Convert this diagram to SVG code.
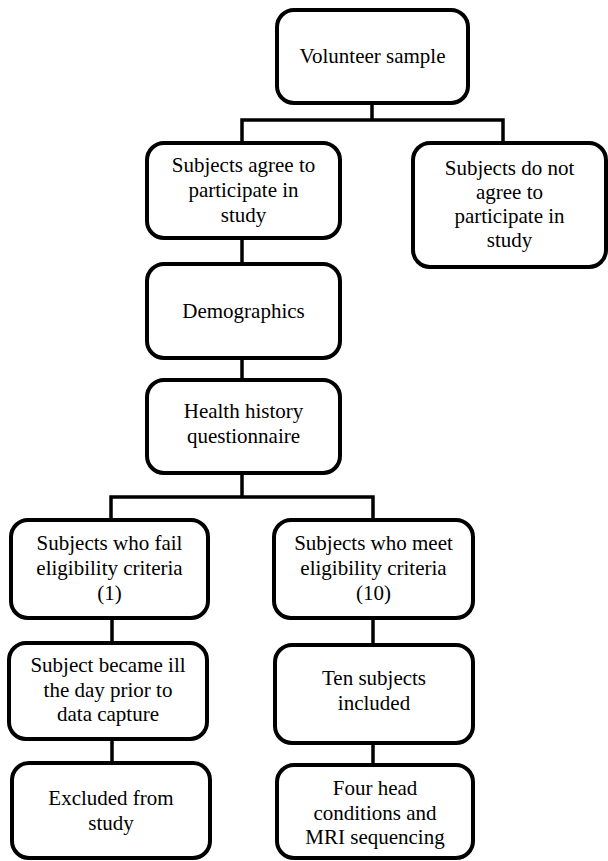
<svg xmlns="http://www.w3.org/2000/svg" width="608" height="861" viewBox="0 0 608 861">
<style>
.box{fill:#fff;stroke:#000;stroke-width:4}
.con{fill:none;stroke:#000;stroke-width:3.5;stroke-linecap:square}
text{font-family:'Liberation Serif','Tinos','DejaVu Serif',serif;font-size:21px;fill:#000;text-anchor:middle}
</style>
<rect width="608" height="861" fill="#fff"/>
<g id="connectors">
<path class="con" d="M372,103 V120 M242,120 H503 M242,120 V143 M503,120 V143"/>
<path class="con" d="M242,238 V264"/>
<path class="con" d="M242,358 V380"/>
<path class="con" d="M242,473 V497 M111,497 H373 M111,497 V520 M373,497 V520"/>
<path class="con" d="M112,618 V643"/>
<path class="con" d="M112,739 V763"/>
<path class="con" d="M373,618 V645"/>
<path class="con" d="M373,743 V765"/>
</g>
<g id="volunteer"><rect class="box" x="277" y="10" width="191" height="93" rx="17"/><text x="372.5" y="63">Volunteer sample</text></g>
<g id="agree"><rect class="box" x="147" y="143" width="193" height="95" rx="17"/><text x="243.5" y="172">Subjects agree to</text><text x="243.5" y="197">participate in</text><text x="243.5" y="222">study</text></g>
<g id="notagree"><rect class="box" x="413" y="143" width="193" height="124" rx="17"/><text x="509.5" y="175">Subjects do not</text><text x="509.5" y="199">agree to</text><text x="509.5" y="223">participate in</text><text x="509.5" y="247">study</text></g>
<g id="demographics"><rect class="box" x="147" y="264" width="193" height="94" rx="17"/><text x="243.5" y="318">Demographics</text></g>
<g id="health"><rect class="box" x="147" y="380" width="193" height="93" rx="17"/><text x="243.5" y="418">Health history</text><text x="243.5" y="443">questionnaire</text></g>
<g id="fail"><rect class="box" x="11" y="520" width="197" height="98" rx="17"/><text x="109.5" y="550">Subjects who fail</text><text x="109.5" y="575">eligibility criteria</text><text x="109.5" y="600">(1)</text></g>
<g id="meet"><rect class="box" x="274" y="520" width="199" height="98" rx="17"/><text x="373.5" y="550">Subjects who meet</text><text x="373.5" y="575">eligibility criteria</text><text x="373.5" y="600">(10)</text></g>
<g id="ill"><rect class="box" x="9" y="643" width="198" height="96" rx="17"/><text x="108" y="672">Subject became ill</text><text x="108" y="697">the day prior to</text><text x="108" y="721">data capture</text></g>
<g id="excluded"><rect class="box" x="12" y="763" width="198" height="95" rx="17"/><text x="111" y="805">Excluded from</text><text x="111" y="830">study</text></g>
<g id="ten"><rect class="box" x="275" y="645" width="198" height="98" rx="17"/><text x="374" y="685">Ten subjects</text><text x="374" y="710">included</text></g>
<g id="four"><rect class="box" x="277" y="765" width="196" height="93" rx="17"/><text x="375" y="795">Four head</text><text x="375" y="820">conditions and</text><text x="375" y="844">MRI sequencing</text></g>
</svg>
